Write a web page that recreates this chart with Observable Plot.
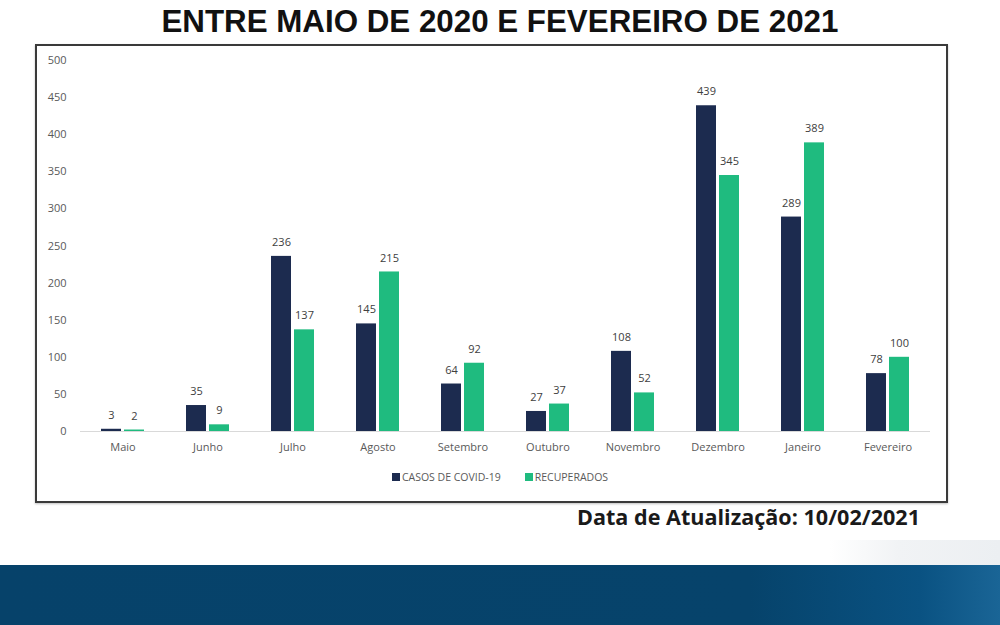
<!DOCTYPE html>
<html>
<head>
<meta charset="utf-8">
<script src="https://cdn.jsdelivr.net/npm/d3@7"></script>
<script src="https://cdn.jsdelivr.net/npm/@observablehq/plot@0.6"></script>
<style>
  html, body { margin: 0; padding: 0; background: #ffffff; }
  #page { position: relative; width: 1000px; height: 625px; overflow: hidden; background: #fff; font-family: "Open Sans", "Noto Sans", sans-serif; }
  #title { position: absolute; left: 0; top: 1px; width: 1000px; text-align: center; font-family: "Liberation Sans", sans-serif; font-weight: bold; font-size: 32px; line-height: 40px; color: #111; }
  #title span { display: inline-block; transform-origin: 50% 50%; }
  #box { position: absolute; left: 35px; top: 44px; width: 909px; height: 455px; border: 2px solid #3a3a3a; box-shadow: 0 1px 2px rgba(0,0,0,0.25); }
  #chart { position: absolute; left: 0; top: 0; }
  #legend { position: absolute; left: 0; top: 470px; width: 1000px; text-align: center; font-size: 10.5px; color: #595959; }
  #legend span.item { margin: 0 12px; }
  #legend span.sw { display: inline-block; width: 8px; height: 8px; margin-right: 2px; vertical-align: 0px; }
  #update { position: absolute; left: 577px; top: 503px; font-family: "Open Sans", sans-serif; font-weight: bold; font-size: 21px; color: #1a1a1a; }
  #update span { display: inline-block; transform-origin: 0 50%; }
  #band { position: absolute; left: 0; top: 565px; width: 1000px; height: 60px; background: linear-gradient(90deg, #06426a 0%, #06436b 75%, #0a5282 92%, #1a6596 100%); }
  #corner { position: absolute; left: 830px; top: 540px; width: 170px; height: 25px; background: linear-gradient(90deg, rgba(240,243,246,0) 0%, #f1f3f5 40%, #eceff2 100%); }
</style>
</head>
<body>
<div id="page">
  <div id="title"><span>ENTRE MAIO DE 2020 E FEVEREIRO DE 2021</span></div>
  <div id="box"></div>
  <div id="chart"></div>
  <div id="legend"></div>
  <div id="update"><span>Data de Atualização: 10/02/2021</span></div>
  <div id="corner"></div>
  <div id="band"></div>
</div>
<script>
const months = ["Maio", "Junho", "Julho", "Agosto", "Setembro", "Outubro", "Novembro", "Dezembro", "Janeiro", "Fevereiro"];
const seriesNames = ["CASOS DE COVID-19", "RECUPERADOS"];
const casos = [3, 35, 236, 145, 64, 27, 108, 439, 289, 78];
const recuperados = [2, 9, 137, 215, 92, 37, 52, 345, 389, 100];
const yTicks = [0, 50, 100, 150, 200, 250, 300, 350, 400, 450, 500];
const colors = ["#1c2b4f", "#1fbb7f"];

const data = months.flatMap((m, i) => [
  {month: m, series: seriesNames[0], value: casos[i]},
  {month: m, series: seriesNames[1], value: recuperados[i]}
]);

const chart = Plot.plot({
  width: 1000,
  height: 500,
  marginTop: 60,
  marginBottom: 69,
  marginLeft: 80,
  marginRight: 70,
  style: {background: "transparent", fontFamily: "'Open Sans', sans-serif", fontSize: "11px", color: "#595959"},
  fx: {domain: months, paddingInner: 0.49, paddingOuter: 0.245, label: null, tickSize: 0, tickPadding: 12, axis: "bottom"},
  x: {domain: seriesNames, paddingInner: 0.15, paddingOuter: 0, axis: null},
  y: {domain: [0, 500], ticks: yTicks, label: null, tickSize: 0, tickPadding: 35},
  color: {domain: seriesNames, range: colors},
  marks: [
    Plot.ruleY([0], {stroke: "#d9d9d9", strokeWidth: 1, insetLeft: -21, insetRight: -21}),
    Plot.barY(data, {fx: "month", x: "series", y: "value", fill: "series"}),
    Plot.text(data, {fx: "month", x: "series", y: "value", text: d => String(d.value), dy: -14, fill: "#404040", fontSize: 11})
  ]
});
document.getElementById("chart").appendChild(chart);

const legend = document.getElementById("legend");
seriesNames.forEach((s, i) => {
  const item = document.createElement("span");
  item.className = "item";
  const sw = document.createElement("span");
  sw.className = "sw";
  sw.style.background = colors[i];
  item.appendChild(sw);
  item.appendChild(document.createTextNode(s));
  legend.appendChild(item);
});

function fitWidth(el, target) {
  const w = el.getBoundingClientRect().width;
  if (w > 0) el.style.transform = `scaleX(${target / w})`;
}
fitWidth(document.querySelector("#title span"), 677);
fitWidth(document.querySelector("#update span"), 343);
</script>
</body>
</html>
